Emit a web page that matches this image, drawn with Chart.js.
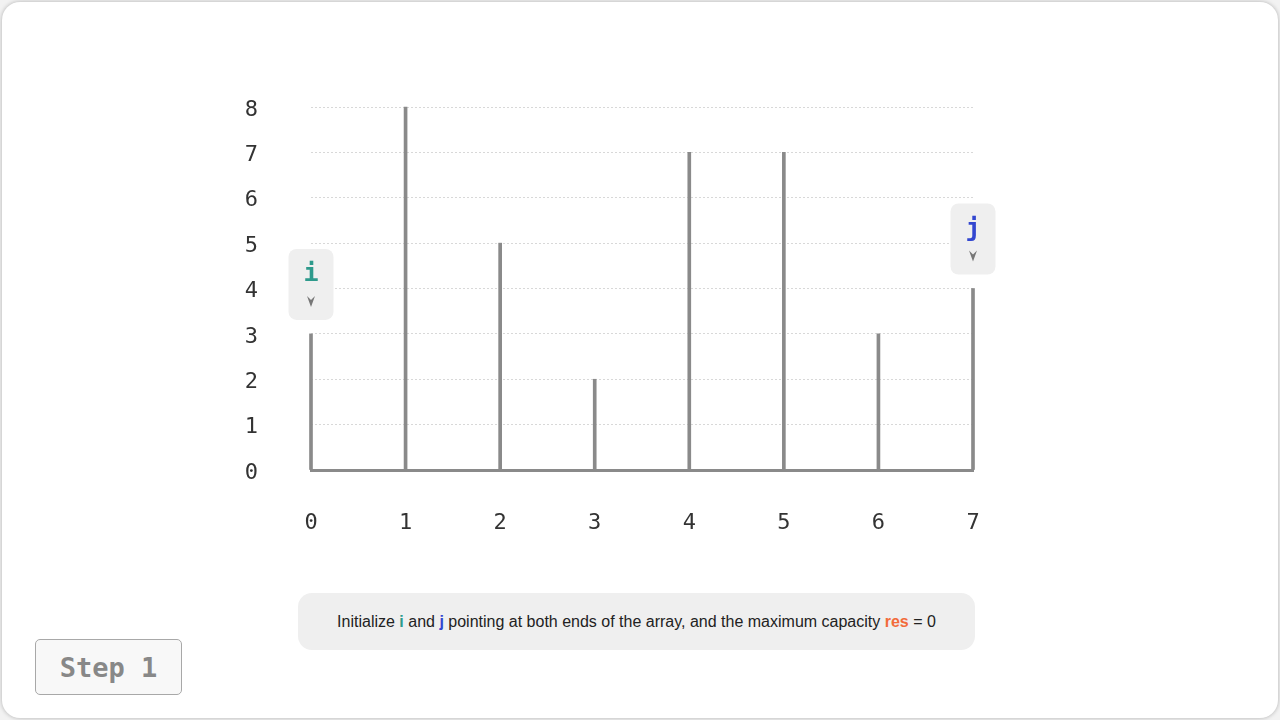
<!DOCTYPE html>
<html>
<head>
<meta charset="utf-8">
<script src="https://cdn.jsdelivr.net/npm/chart.js@4.4.1/dist/chart.umd.min.js"></script>
<style>
  html, body { margin: 0; padding: 0; width: 1280px; height: 720px; overflow: hidden; background: #f2f2f2; }
  #card { position: absolute; left: 2px; top: 2px; width: 1276px; height: 716px; background: #fff; border-radius: 18px; box-shadow: 0 0 4px rgba(0,0,0,0.28); }
  #wrap { position: absolute; left: 0; top: 0; width: 1280px; height: 720px; }
  #caption { position: absolute; left: 298px; top: 593px; width: 677px; height: 57px; background: #efefef; border-radius: 14px;
    font-family: "Liberation Sans", Arial, sans-serif; font-size: 16px; color: #222; display: flex; align-items: center; justify-content: center; }
  #step { position: absolute; left: 35px; top: 639px; width: 145px; height: 54px; border: 1px solid #a8a8a8; border-radius: 5px; background: #f8f8f8;
    font-family: "DejaVu Sans Mono", monospace; font-weight: bold; font-size: 27px; color: #888; display: flex; align-items: center; justify-content: center; }
</style>
</head>
<body>
<div id="card"></div>
<div id="wrap"><canvas id="c" width="1280" height="720"></canvas></div>
<div id="caption"><span>Initialize <b style="color:#2e9a8c">i</b> and <b style="color:#3347d0">j</b> pointing at both ends of the array, and the maximum capacity <b style="color:#f26b3a">res</b> = 0</span></div>
<div id="step">Step 1</div>
<script>
// Data
const indices = [0, 1, 2, 3, 4, 5, 6, 7];
const heights = [3, 8, 5, 2, 7, 7, 3, 4];
const yTicks = [0, 1, 2, 3, 4, 5, 6, 7, 8];
const pointerLabels = ['i', 'j'];
const pointerIndex = [0, 7];
const pointerColors = ['#2e9a8c', '#3347d0'];

const markerPlugin = {
  id: 'markers',
  afterDatasetsDraw(chart) {
    const ctx = chart.ctx;
    const xs = chart.scales.x, ys = chart.scales.y;
    pointerLabels.forEach((lab, k) => {
      const idx = pointerIndex[k];
      const cx = xs.getPixelForValue(indices[idx]);
      const topY = ys.getPixelForValue(heights[idx]);
      const w = 45, h = 71;
      const bottom = topY - 14;
      const top = bottom - h;
      const left = cx - w / 2;
      ctx.save();
      ctx.fillStyle = '#efefef';
      ctx.beginPath();
      ctx.roundRect(left, top, w, h, 8);
      ctx.fill();
      ctx.fillStyle = pointerColors[k];
      ctx.font = 'bold 25px "DejaVu Sans Mono", monospace';
      ctx.textAlign = 'center';
      ctx.textBaseline = 'middle';
      ctx.fillText(lab, cx, top + 26);
      // arrow head
      const ay = top + 47;
      ctx.fillStyle = '#777';
      ctx.beginPath();
      ctx.moveTo(cx - 4, ay);
      ctx.lineTo(cx, ay + 4);
      ctx.lineTo(cx + 4, ay);
      ctx.lineTo(cx, ay + 11);
      ctx.closePath();
      ctx.fill();
      ctx.restore();
    });
  }
};

new Chart(document.getElementById('c'), {
  type: 'bar',
  data: {
    datasets: [{
      data: indices.map((x, i) => ({ x: x, y: heights[i] })),
      backgroundColor: '#8a8a8a',
      borderWidth: 0,
      barThickness: 3,
      clip: false
    }]
  },
  options: {
    responsive: false,
    animation: false,
    events: [],
    layout: { padding: { top: 107, right: 307, left: 0, bottom: 0 } },
    plugins: { legend: { display: false }, tooltip: { enabled: false } },
    scales: {
      x: {
        type: 'linear',
        min: 0, max: 7,
        offset: false,
        afterFit(s) { s.height = 250; },
        grid: { display: false, drawTicks: false },
        border: { display: true, color: '#8a8a8a', width: 3 },
        afterBuildTicks(s) { s.ticks = indices.map(v => ({ value: v })); },
        ticks: { padding: 40, color: '#333', font: { family: '"DejaVu Sans Mono", monospace', size: 22 } }
      },
      y: {
        min: 0, max: 8,
        afterFit(s) { s.width = 311; },
        afterBuildTicks(s) { s.ticks = yTicks.map(v => ({ value: v })); },
        grid: { color: '#d8d8d8', lineWidth: 1, drawTicks: false },
        border: { display: false, dash: [2, 2] },
        ticks: { padding: 53, labelOffset: 3, color: '#333', font: { family: '"DejaVu Sans Mono", monospace', size: 22 } }
      }
    }
  },
  plugins: [markerPlugin]
});
</script>
</body>
</html>
